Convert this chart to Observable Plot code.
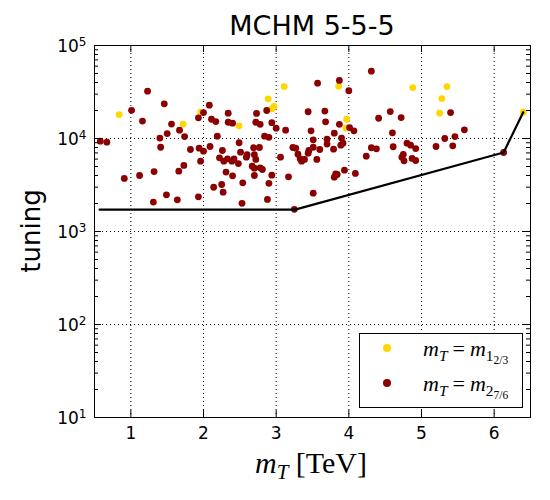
<!DOCTYPE html>
<html><head><meta charset="utf-8">
<script src="https://cdn.jsdelivr.net/npm/d3@7"></script>
<script src="https://cdn.jsdelivr.net/npm/@observablehq/plot@0.6"></script>
<style>
body{margin:0;background:#fff;}
#wrap{position:relative;width:550px;height:500px;font-family:"DejaVu Sans",sans-serif;color:#000;}
#title{position:absolute;left:0;width:624px;top:10px;text-align:center;font-size:27px;line-height:32px;}
#ylab{position:absolute;left:31px;top:231px;transform:translate(-50%,-50%) rotate(-90deg);font-size:26px;white-space:nowrap;}
#xlab{position:absolute;left:311px;top:463px;transform:translate(-50%,-50%);font-family:"Liberation Serif",serif;font-size:30px;white-space:nowrap;}
.math sub{font-size:0.7em;vertical-align:-0.3em;line-height:0;}
.math sub sub{font-size:0.75em;vertical-align:-0.25em;}
.eq{padding:0 5px;}
#legend{position:absolute;left:359px;top:333px;width:162px;height:73px;border:1px solid #000;background:#fff;}
.ldot{position:absolute;left:23px;width:8px;height:8px;border-radius:50%;}
.ltxt{position:absolute;left:63px;font-family:"Liberation Serif",serif;font-size:22px;white-space:nowrap;line-height:20px;}
</style></head><body><div id="wrap"><div id="plot"></div>
<div id="title">MCHM 5-5-5</div>
<div id="ylab">tuning</div>
<div id="xlab" class="math"><i>m</i><sub><i>T</i></sub> [TeV]</div>
<div id="legend">
 <div class="ldot" style="top:10px;background:#FFD700"></div>
 <div class="ltxt math" style="top:5px"><i>m</i><sub><i>T</i></sub><span class="eq">=</span><i>m</i><sub>1<sub>2/3</sub></sub></div>
 <div class="ldot" style="top:45px;background:#8B0000"></div>
 <div class="ltxt math" style="top:40px"><i>m</i><sub><i>T</i></sub><span class="eq">=</span><i>m</i><sub>2<sub>7/6</sub></sub></div>
</div>
</div>
<script>
const goldX = [0.84,1.72,1.96,2.49,2.89,2.94,2.97,3.11,3.86,3.97,3.96,4.88,5.35,5.28,5.25,6.40];
const goldY = [18100,14300,19200,13700,26700,20800,22100,36200,36500,16100,13000,35300,36200,26900,18700,19200];

const redX = [1.23,1.01,1.46,1.16,1.56,1.67,1.50,1.74,1.40,0.58,0.67,1.41,1.82,0.91,1.12,1.32,1.73,1.66,1.96,1.94,
2.00,2.09,2.19,1.93,2.00,2.08,2.11,2.17,2.34,2.34,2.40,2.49,2.26,2.22,2.28,2.33,2.39,2.42,2.48,2.31,
2.40,2.14,2.25,2.27,1.49,1.31,1.64,1.93,2.53,2.54,2.73,2.87,2.72,2.78,2.94,3.00,3.13,3.44,3.57,3.67,
3.68,3.48,3.87,3.80,3.87,4.00,4.01,4.07,4.31,4.41,2.84,2.90,2.69,2.77,2.51,2.60,2.59,2.70,2.72,2.67,
2.70,2.78,2.81,2.70,2.94,2.90,2.88,3.06,3.17,3.51,3.51,3.45,3.44,3.60,3.56,3.23,3.27,3.30,3.33,3.35,
3.39,3.70,3.70,3.79,3.89,3.92,3.90,3.82,3.84,3.80,3.94,4.09,4.24,4.31,4.38,3.51,3.25,5.40,4.57,4.72,
5.59,4.60,5.32,5.46,4.61,4.80,4.85,4.92,5.20,5.43,4.75,4.73,4.76,4.87,4.92,6.13];
const redY = [32300,20100,23600,15400,14300,12300,11300,10500,10100,9350,9130,8050,7620,3720,4000,4410,5130,4450,5700,7870,
7300,8200,10600,16700,19000,22800,16100,15200,18700,14960,14600,9000,7430,6200,5700,6050,5700,6050,5380,4350,
3970,2990,3200,2650,2480,2070,2190,2360,2010,3340,18600,20000,14960,14200,14800,12900,12300,19400,39300,19700,
15100,12100,14200,11400,42100,32600,13100,12100,52900,16500,10600,10300,7950,8000,7130,6690,6300,6690,5950,5030,
4800,4840,4640,4000,4030,3300,2210,6300,3870,9680,8050,7430,6950,7620,5950,8000,7870,6780,6050,5700,
5950,9820,8700,7680,8480,8900,10100,4170,4100,3840,4560,4210,6460,7950,7750,2580,1730,19000,19500,16800,
12400,11500,10000,10500,8150,8900,8480,7800,8200,8340,6730,6300,5750,6100,5800,7070];

const boundX = [0.57, 3.26, 6.13, 6.40];
const boundY = [1720, 1720, 7070, 19200];

const xTicks = [1,2,3,4,5,6];
const yTicks = [10,100,1000,10000,100000];
const yGrid = [100,1000,10000];
const yMinor = [];
for (let d = 10; d < 100000; d *= 10) for (let k = 2; k <= 9; k++) yMinor.push(k*d);

const gold = goldX.map((x,i)=>({x, y: goldY[i]}));
const red = redX.map((x,i)=>({x, y: redY[i]}));
const bound = boundX.map((x,i)=>({x, y: boundY[i]}));

const W = 550, H = 500, ML = 94, MR = 20, MT = 45, MB = 83;
const FW = W - ML - MR, FH = H - MT - MB;
const MAJ = 7, MIN = 4;

const gridStyle = {stroke:"black", strokeOpacity:1, strokeWidth:1, strokeDasharray:"1,3"};
const tk = {stroke:"black", strokeWidth:1};

const chart = Plot.plot({
  width: W, height: H,
  marginLeft: ML, marginRight: MR, marginTop: MT, marginBottom: MB,
  x: {domain: [0.5, 6.5]},
  y: {type: "log", domain: [10, 100000]},
  style: {fontFamily: "DejaVu Sans", fontSize: "17px", color: "black", background: "white"},
  marks: [
    Plot.gridX(xTicks, gridStyle),
    Plot.gridY(yGrid, gridStyle),
    Plot.dot(gold, {x:"x", y:"y", r:3.4, fill:"#FFD700"}),
    Plot.dot(red, {x:"x", y:"y", r:3.4, fill:"#8B0000"}),
    Plot.line(bound, {x:"x", y:"y", stroke:"black", strokeWidth:2.2}),
    Plot.frame({stroke:"black", strokeWidth:1}),
    Plot.tickX(xTicks, {x: d => d, insetTop: FH - MAJ, ...tk}),
    Plot.tickX(xTicks, {x: d => d, insetBottom: FH - MAJ, ...tk}),
    Plot.tickY(yTicks, {y: d => d, insetRight: FW - MAJ, ...tk}),
    Plot.tickY(yTicks, {y: d => d, insetLeft: FW - MAJ, ...tk}),
    Plot.tickY(yMinor, {y: d => d, insetRight: FW - MIN, ...tk}),
    Plot.tickY(yMinor, {y: d => d, insetLeft: FW - MIN, ...tk}),
    Plot.axisX(xTicks, {anchor:"bottom", tickSize:0, tickPadding:9, label:null, fontSize:17}),
    Plot.axisY(yTicks, {anchor:"left", tickSize:0, tickPadding:8, label:null, fontSize:17,
      tickFormat: d => String(Math.round(Math.log10(d)))})
  ]
});
document.getElementById("plot").appendChild(chart);

d3.select(chart).selectAll('g[aria-label="y-axis tick label"] text').each(function(){
  const e = this.textContent;
  this.textContent = "";
  const t = d3.select(this);
  t.append("tspan").attr("dy","0.08em").text("10");
  t.append("tspan").attr("dy","-0.5em").attr("font-size","12px").text(e);
});
</script></body></html>
